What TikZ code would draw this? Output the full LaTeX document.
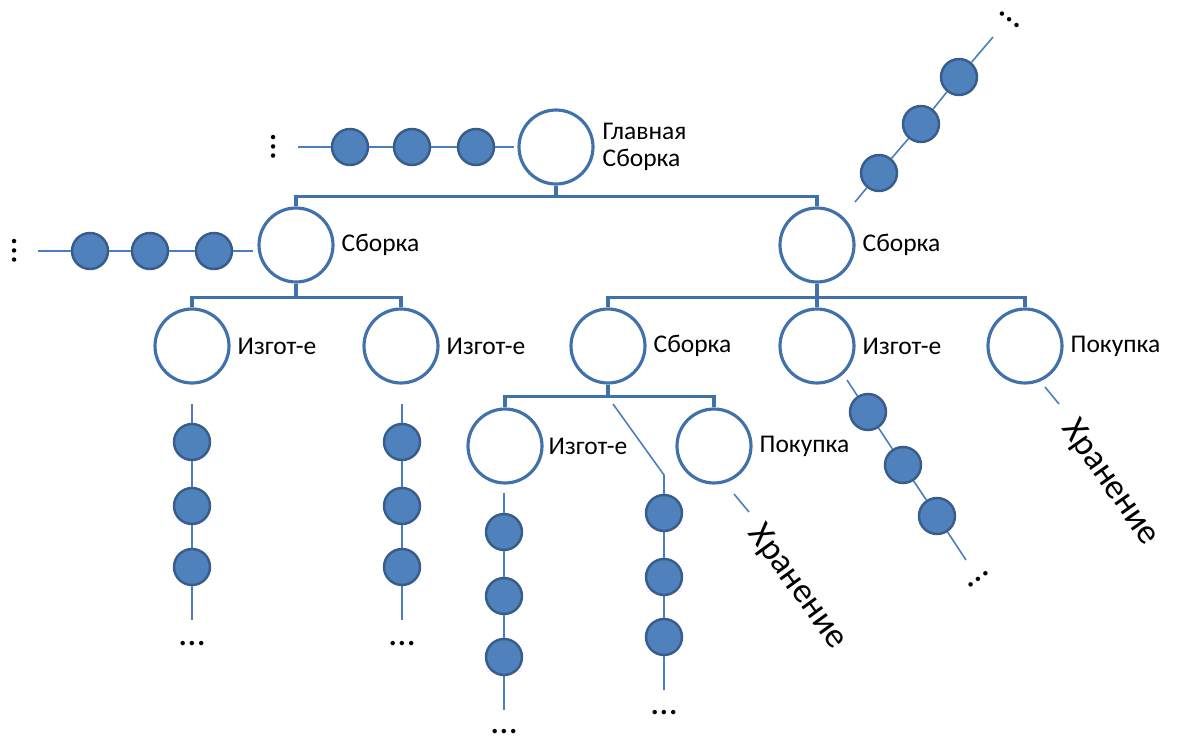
\documentclass[tikz,border=0pt]{standalone}
\usepackage{fontspec}
\setmainfont{Carlito}
\usetikzlibrary{positioning}
\definecolor{treeblue}{RGB}{65,113,170}
\definecolor{ballfill}{RGB}{79,129,189}
\definecolor{balledge}{RGB}{56,93,138}
\definecolor{chainblue}{RGB}{74,126,193}
\tikzset{
  part/.style={circle,draw=treeblue,line width=1.8pt,fill=white,minimum size=1.48cm,inner sep=0pt},
  ball/.style={circle,draw=balledge,line width=1.4pt,fill=ballfill,minimum size=0.72cm,inner sep=0pt},
  bar/.style={draw=treeblue,line width=2pt},
  chain/.style={draw=chainblue,line width=0.9pt},
  lbl/.style={font=\fontsize{14.5}{15.5}\selectfont,inner sep=1pt},
  more/.style={font=\fontsize{21}{22}\selectfont,inner sep=0pt},
  store/.style={font=\fontsize{20}{24}\selectfont,inner sep=0pt}
}

\begin{document}
\begin{tikzpicture}[x=0.02cm,y=-0.02cm]
  \useasboundingbox (0,0) rectangle (1178,740);

  % the tree of parts
  \node[part] (top) at (556,147) {};
  \node[lbl,align=left,right=0.12cm of top] (topl) {Главная\\Сборка};
  \node[part] (lsb) at (296,245) {};
  \node[lbl,right=0.1cm of lsb] (lsbl) {Сборка};
  \node[part] (rsb) at (817,245) {};
  \node[lbl,right=0.1cm of rsb] (rsbl) {Сборка};

  \node[part] (bendA) at (192,346) {};
  \node[lbl,right=0.1cm of bendA] (bendAl) {Изгот-е};
  \node[part] (bendB) at (401,346) {};
  \node[lbl,right=0.1cm of bendB] (bendBl) {Изгот-е};
  \node[part] (msb) at (608,346) {};
  \node[lbl,right=0.1cm of msb] (msbl) {Сборка};
  \node[part] (bendC) at (817,346) {};
  \node[lbl,right=0.1cm of bendC] (bendCl) {Изгот-е};
  \node[part] (buyA) at (1025,346) {};
  \node[lbl,right=0.1cm of buyA] (buyAl) {Покупка};

  \node[part] (bendD) at (505,446) {};
  \node[lbl,right=0.06cm of bendD] (bendDl) {Изгот-е};
  \node[part] (buyB) at (714,446) {};
  \node[lbl,right=0.1cm of buyB] (buyBl) {Покупка};

  \draw[bar] (top.south) -- ++(0,11) -| (lsb.north);
  \draw[bar] (top.south) -- ++(0,11) -| (rsb.north);
  \draw[bar] (lsb.south) -- ++(0,14) -| (bendA.north);
  \draw[bar] (lsb.south) -- ++(0,14) -| (bendB.north);
  \draw[bar] (rsb.south) -- ++(0,14) -| (msb.north);
  \draw[bar] (rsb.south) -- (bendC.north);
  \draw[bar] (rsb.south) -- ++(0,14) -| (buyA.north);
  \draw[bar] (msb.south) -- ++(0,12) -| (bendD.north);
  \draw[bar] (msb.south) -- ++(0,12) -| (buyB.north);

  % chains of operations
  \foreach \x [count=\i] in {350,412,476} \node[ball] (t\i) at (\x,147) {};
  \coordinate (t0) at (298,147); \coordinate (t4) at (514,147);
  \draw[chain] (t0) -- (t1) -- (t2) -- (t3) -- (t4);
  \node[more,rotate=90] (tdots) at (274,147) {…};

  \foreach \x [count=\i] in {90,150,214} \node[ball] (l\i) at (\x,251) {};
  \coordinate (l0) at (38,251); \coordinate (l4) at (253,251);
  \draw[chain] (l0) -- (l1) -- (l2) -- (l3) -- (l4);
  \node[more,rotate=90] (ldots) at (15,251) {…};

  \foreach \x/\y [count=\i] in {879/173,921/124,959/77} \node[ball] (r\i) at (\x,\y) {};
  \coordinate (r0) at (855,202); \coordinate (r4) at (993,37);
  \draw[chain] (r0) -- (r1) -- (r2) -- (r3) -- (r4);
  \node[more,rotate=-38] (rdots) at (1010,20) {…};

  \foreach \y [count=\i] in {442,506,567} {
    \node[ball] (a\i) at (192,\y) {};
    \node[ball] (b\i) at (402,\y) {};
  }
  \coordinate (a0) at (192,404); \coordinate (a4) at (192,620);
  \coordinate (b0) at (402,404); \coordinate (b4) at (402,620);
  \draw[chain] (a0) -- (a1) -- (a2) -- (a3) -- (a4);
  \draw[chain] (b0) -- (b1) -- (b2) -- (b3) -- (b4);
  \node[more] (adots) at (192,644) {…};
  \node[more] (bdots) at (402,644) {…};

  \foreach \y [count=\i] in {532,596,657} \node[ball] (d\i) at (504,\y) {};
  \coordinate (d0) at (504,493); \coordinate (d4) at (504,710);
  \draw[chain] (d0) -- (d1) -- (d2) -- (d3) -- (d4);
  \node[more] (ddots) at (504,732) {…};

  \foreach \y [count=\i] in {513,577,637} \node[ball] (m\i) at (664,\y) {};
  \coordinate (m0) at (613,404); \coordinate (mk) at (664,475); \coordinate (m4) at (664,690);
  \draw[chain] (m0) -- (mk) -- (m1) -- (m2) -- (m3) -- (m4);
  \node[more] (mdots) at (664,713) {…};

  \foreach \x/\y [count=\i] in {868/412,903/465,937/516} \node[ball] (c\i) at (\x,\y) {};
  \coordinate (c0) at (847,380); \coordinate (c4) at (966,560);
  \draw[chain] (c0) -- (c1) -- (c2) -- (c3) -- (c4);
  \node[more,rotate=37] (cdots) at (978,579) {…};

  % storage
  \coordinate (sa0) at (1045,387); \coordinate (sa1) at (1059,404);
  \draw[chain] (sa0) -- (sa1);
  \node[store,rotate=-55] (storeA) at (1110,483) {Хранение};
  \coordinate (sb0) at (734,494); \coordinate (sb1) at (749,512);
  \draw[chain] (sb0) -- (sb1);
  \node[store,rotate=-54] (storeB) at (797,587) {Хранение};
\end{tikzpicture}
\end{document}
